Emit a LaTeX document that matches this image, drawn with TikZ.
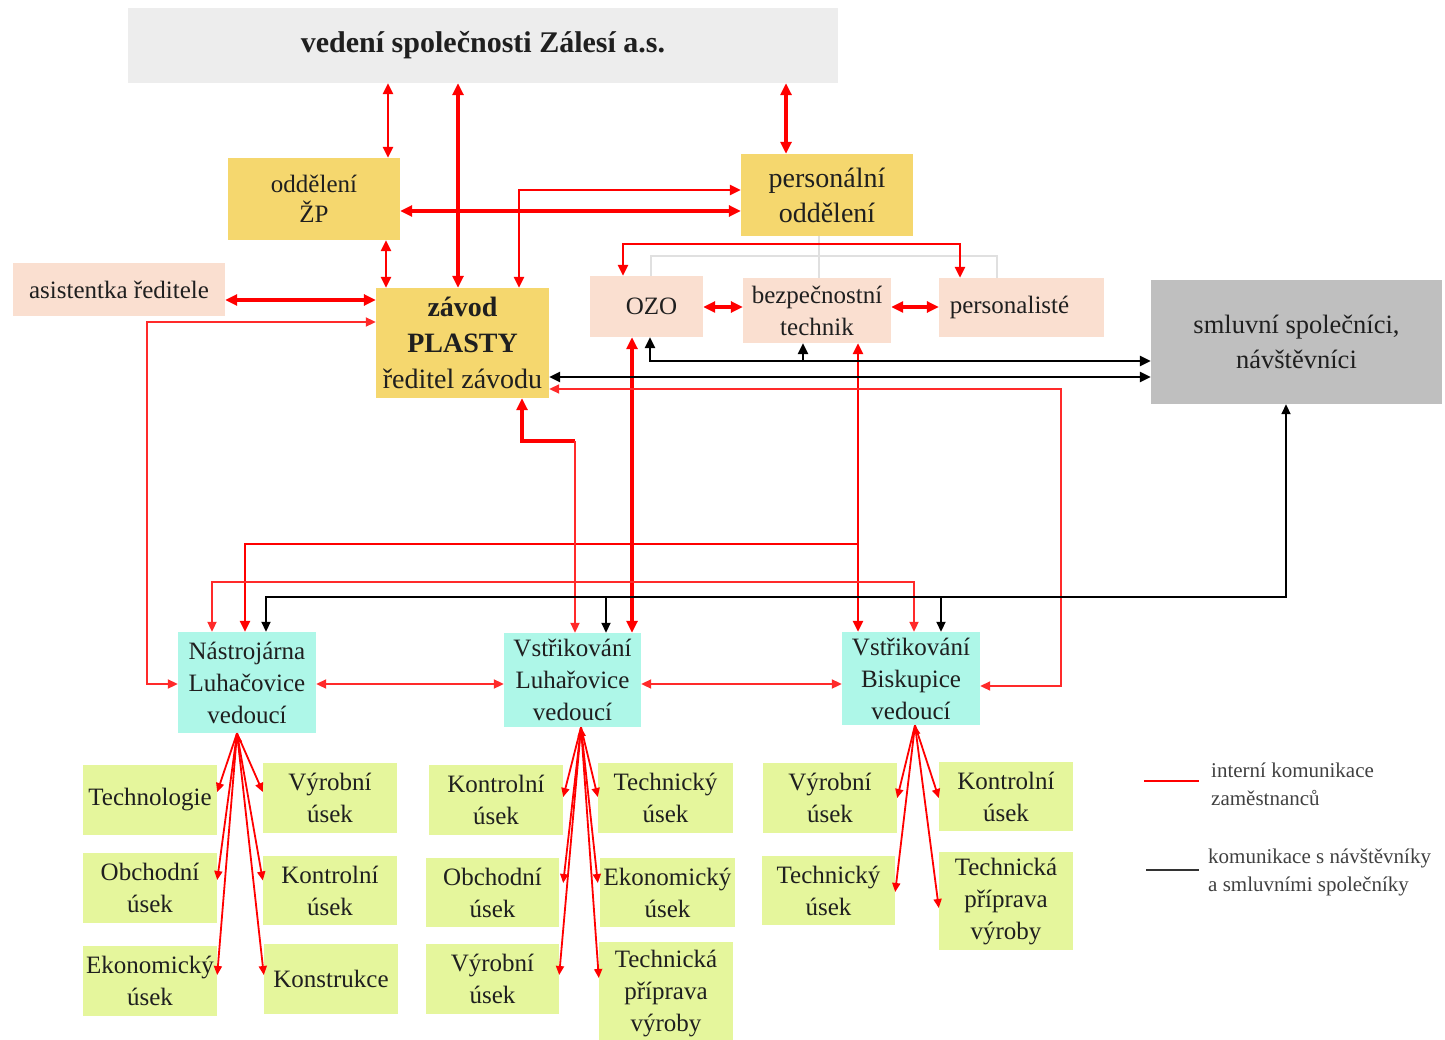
\documentclass[tikz,border=0pt]{standalone}
\usepackage{fontspec}
\setmainfont{Liberation Serif}
\usetikzlibrary{arrows.meta}
\definecolor{goldbox}{HTML}{F5D76E}
\definecolor{peachbox}{HTML}{FADFD0}
\definecolor{topgray}{HTML}{EDEDED}
\definecolor{partnergray}{HTML}{BFBFBF}
\definecolor{cyanbox}{HTML}{AEF7E8}
\definecolor{limebox}{HTML}{E5F69C}
\definecolor{orgline}{HTML}{E0E0E0}
\definecolor{legendtext}{HTML}{404040}
\definecolor{lightred}{HTML}{FF2A2A}

\begin{document}
\begin{tikzpicture}[x=1pt,y=-1pt,
  box/.style={inner sep=0pt, align=center, text=black!88,
    font=\fontsize{25}{32}\selectfont},
  goldb/.style={box, fill=goldbox},
  peachb/.style={box, fill=peachbox},
  cyanb/.style={box, fill=cyanbox},
  limeb/.style={box, fill=limebox},
  rthick/.style={draw=red, line width=3.6pt, >={Triangle[length=12pt,width=11pt]}},
  rmed/.style={draw=red, line width=2.8pt, >={Triangle[length=11pt,width=10pt]}},
  rthin/.style={draw=lightred, line width=2pt, >={Triangle[length=10pt,width=9pt]}},
  rsub/.style={draw=red, line width=1.8pt, >={Triangle[length=9pt,width=8pt]}},
  bk/.style={draw=black, line width=2.4pt, >={Triangle[length=11pt,width=10pt]}},
  bkthin/.style={draw=black, line width=1.8pt, >={Triangle[length=10pt,width=9pt]}},
  org/.style={draw=orgline, line width=1.5pt},
  legend/.style={inner sep=0pt, align=left, text=legendtext,
    font=\fontsize{21}{28}\selectfont}
]
\useasboundingbox (0,0) rectangle (1445,1040);

% ---------- upper part ----------
\node[box, fill=topgray, minimum width=710pt, minimum height=75pt,
  font=\fontsize{30}{36}\selectfont\bfseries] (top) at (483,45.5)
  {vedení společnosti Zálesí a.s.};
\node[goldb, minimum width=172pt, minimum height=82pt,
  font=\fontsize{25}{30}\selectfont] (zp) at (314,199) {oddělení\\ŽP};
\node[goldb, minimum width=172pt, minimum height=82pt,
  font=\fontsize{28}{35}\selectfont] (pers) at (827,195) {personální\\oddělení};
\node[peachb, minimum width=212pt, minimum height=53pt] (asist) at (119,289.5)
  {asistentka ředitele};
\node[goldb, minimum width=173pt, minimum height=110pt,
  font=\fontsize{28}{36}\selectfont] (zavod) at (462.5,343)
  {{\bfseries závod}\\{\bfseries PLASTY}\\ředitel závodu};
\node[peachb, minimum width=113pt, minimum height=61pt] (ozo) at (646.5,306.5)
  {\hspace*{10pt}OZO};
\node[peachb, minimum width=148pt, minimum height=65pt] (bt) at (817,310.5)
  {bezpečnostní\\technik};
\node[peachb, minimum width=165pt, minimum height=59pt] (perl) at (1021.5,307.5)
  {\hspace*{-24pt}personalisté};
\node[box, fill=partnergray, minimum width=291pt, minimum height=124pt,
  font=\fontsize{26.5}{35}\selectfont] (smluv) at (1296.5,342)
  {smluvní společníci,\\návštěvníci};

% ---------- plants ----------
\node[cyanb, minimum width=138pt, minimum height=101pt] (nl) at (247,682.5)
  {Nástrojárna\\Luhačovice\\vedoucí};
\node[cyanb, minimum width=137pt, minimum height=94pt] (vl) at (572.5,680)
  {Vstřikování\\Luhařovice\\vedoucí};
\node[cyanb, minimum width=138pt, minimum height=93pt] (vb) at (911,678.5)
  {Vstřikování\\Biskupice\\vedoucí};

% ---------- departments ----------
\node[limeb, minimum width=134pt, minimum height=70pt] (tech) at (150,800) {Technologie};
\node[limeb, minimum width=134pt, minimum height=70pt] (vyr1) at (330,798) {Výrobní\\úsek};
\node[limeb, minimum width=134pt, minimum height=70pt] (obch1) at (150,888) {Obchodní\\úsek};
\node[limeb, minimum width=134pt, minimum height=69pt] (kont1) at (330,890.5) {Kontrolní\\úsek};
\node[limeb, minimum width=134pt, minimum height=70pt] (ekon1) at (150,981) {Ekonomický\\úsek};
\node[limeb, minimum width=134pt, minimum height=70pt] (konst) at (331,979) {Konstrukce};

\node[limeb, minimum width=134pt, minimum height=70pt] (kont2) at (496,800) {Kontrolní\\úsek};
\node[limeb, minimum width=135pt, minimum height=70pt] (techu2) at (665.5,798) {Technický\\úsek};
\node[limeb, minimum width=133pt, minimum height=69pt] (obch2) at (492.5,892.5) {Obchodní\\úsek};
\node[limeb, minimum width=135pt, minimum height=69pt] (ekon2) at (667.5,892.5) {Ekonomický\\úsek};
\node[limeb, minimum width=133pt, minimum height=70pt] (vyr2) at (492.5,979) {Výrobní\\úsek};
\node[limeb, minimum width=134pt, minimum height=103pt] (tpv2) at (666,993.5) {Technická\\příprava\\výroby};

\node[limeb, minimum width=134pt, minimum height=70pt] (vyr3) at (830,798) {Výrobní\\úsek};
\node[limeb, minimum width=134pt, minimum height=69pt] (kont3) at (1006,796.5) {Kontrolní\\úsek};
\node[limeb, minimum width=133pt, minimum height=69pt] (techu3) at (828.5,890.5) {Technický\\úsek};
\node[limeb, minimum width=134pt, minimum height=98pt] (tpv3) at (1006,901) {Technická\\příprava\\výroby};

% ---------- routing points ----------
\coordinate (xa) at (388,0);
\coordinate (xb) at (458,0);
\coordinate (xc) at (786,0);
\coordinate (xd) at (386,0);
\coordinate (ya) at (0,211);
\coordinate (bend1) at (519,190);
\coordinate (yb) at (0,300);
\coordinate (yc) at (0,322);
\coordinate (bend2) at (147,684);
\coordinate (pa) at (623,244);
\coordinate (pb) at (960,244);
\coordinate (yd) at (0,307);
\coordinate (xe) at (632,0);
\coordinate (xf) at (858,0);
\coordinate (bend3) at (858,544);
\coordinate (xg) at (245,0);
\coordinate (yf) at (0,389);
\coordinate (bend4) at (1061,686);
\coordinate (xh) at (522,0);
\coordinate (bend5) at (575,441);
\coordinate (xi) at (212,0);
\coordinate (bend6) at (914,582);
\coordinate (yg) at (0,684);
\coordinate (yh) at (0,377);
\coordinate (bend7) at (650,361);
\coordinate (xj) at (803,361);
\coordinate (xk) at (1286,0);
\coordinate (bend8) at (266,597);
\coordinate (xl) at (606,597);
\coordinate (xm) at (941,597);
\coordinate (ga) at (651,256);
\coordinate (gb) at (997,256);
\coordinate (gc) at (819,0);

% ---------- organisational lines ----------
\draw[org] (pers.south -| gc) -- (bt.north -| gc);
\draw[org] (ozo.north -| ga) -- (ga) -- (gb) -- (perl.north -| gb);

% ---------- internal communication ----------
\draw[rmed,<->] (top.south -| xa) -- (zp.north -| xa);
\draw[rthick,<->] (top.south -| xb) -- (zavod.north -| xb);
\draw[rthick,<->] (top.south -| xc) -- (pers.north -| xc);
\draw[rmed,<->] (zp.south -| xd) -- (zavod.north -| xd);
\draw[rthick,<->] (zp.east |- ya) -- (pers.west |- ya);
\draw[rmed,<->] (zavod.north -| bend1) |- (pers.west |- bend1);
\draw[rthick,<->] (asist.east |- yb) -- (zavod.west |- yb);
\draw[rthin,<->] (zavod.west |- yc) -| (bend2) -- (nl.west |- bend2);
\draw[rmed,<->] (ozo.north -| pa) -- (pa) -- (pb) -- (perl.north -| pb);
\draw[rthick,<->] (ozo.east |- yd) -- (bt.west |- yd);
\draw[rthick,<->] (bt.east |- yd) -- (perl.west |- yd);
\draw[rthick,<->] (ozo.south -| xe) -- (vl.north -| xe);
\draw[rmed,<->] (bt.south -| xf) -- (vb.north -| xf);
\draw[rmed,->] (bend3) -| (nl.north -| xg);
\draw[rthin,<->] (zavod.east |- yf) -| (bend4) -- (vb.east |- bend4);
\draw[rthick,<-] (zavod.south -| xh) |- (bend5);
\draw[rthin,->] (bend5) -- (vl.north -| bend5);
\draw[rthin,<->] (nl.north -| xi) |- (bend6) -- (vb.north -| bend6);
\draw[rthin,<->] (nl.east |- yg) -- (vl.west |- yg);
\draw[rthin,<->] (vl.east |- yg) -- (vb.west |- yg);

% ---------- communication with partners ----------
\draw[bk,<->] (zavod.east |- yh) -- (smluv.west |- yh);
\draw[bk,<->] (ozo.south -| bend7) |- (smluv.west |- bend7);
\draw[bk,->] (xj) -- (bt.south -| xj);
\draw[bkthin,<->] (smluv.south -| xk) |- (bend8) -- (nl.north -| bend8);
\draw[bkthin,->] (xl) -- (vl.north -| xl);
\draw[bkthin,->] (xm) -- (vb.north -| xm);

% ---------- departments of each plant ----------
\draw[rsub,->] ([xshift=-10pt]nl.south) -- ([yshift=8pt]tech.east);
\draw[rsub,->] ([xshift=-10pt]nl.south) -- ([yshift=6pt]vyr1.west);
\draw[rsub,->] ([xshift=-10pt]nl.south) -- ([yshift=8pt]obch1.east);
\draw[rsub,->] ([xshift=-10pt]nl.south) -- ([yshift=10pt]kont1.west);
\draw[rsub,->] ([xshift=-10pt]nl.south) -- ([yshift=6pt]ekon1.east);
\draw[rsub,<->] ([xshift=-10pt]nl.south) -- ([yshift=4pt]konst.west);

\draw[rsub,->] ([xshift=8.5pt]vl.south) -- ([yshift=3pt]kont2.east);
\draw[rsub,->] ([xshift=8.5pt]vl.south) -- ([yshift=1pt]techu2.west);
\draw[rsub,->] ([xshift=8.5pt]vl.south) -- ([xshift=4pt,yshift=9.5pt]obch2.east);
\draw[rsub,->] ([xshift=8.5pt]vl.south) -- ([xshift=-2pt,yshift=9.5pt]ekon2.west);
\draw[rsub,->] ([xshift=8.5pt]vl.south) -- ([yshift=4pt]vyr2.east);
\draw[rsub,<->] ([xshift=8.5pt]vl.south) -- ([yshift=15.5pt]tpv2.west);

\draw[rsub,->] ([xshift=4pt]vb.south) -- (vyr3.east);
\draw[rsub,->] ([xshift=4pt]vb.south) -- ([yshift=-1.5pt]kont3.west);
\draw[rsub,->] ([xshift=4pt]vb.south) -- ([yshift=-1.5pt]techu3.east);
\draw[rsub,<->] ([xshift=4pt]vb.south) -- ([yshift=-7pt]tpv3.west);

% ---------- legend ----------
\coordinate (la) at (1144,781);
\coordinate (lb) at (1199,781);
\coordinate (lc) at (1146,870);
\coordinate (ld) at (1199,870);
\draw[red, line width=2pt] (la) -- (lb);
\draw[black!80, line width=2.5pt] (lc) -- (ld);
\node[legend, anchor=west] (lg1) at (1211,784) {interní komunikace\\zaměstnanců};
\node[legend, anchor=west] (lg2) at (1208,872.5) {komunikace s návštěvníky\\a smluvními společníky};
\end{tikzpicture}
\end{document}
